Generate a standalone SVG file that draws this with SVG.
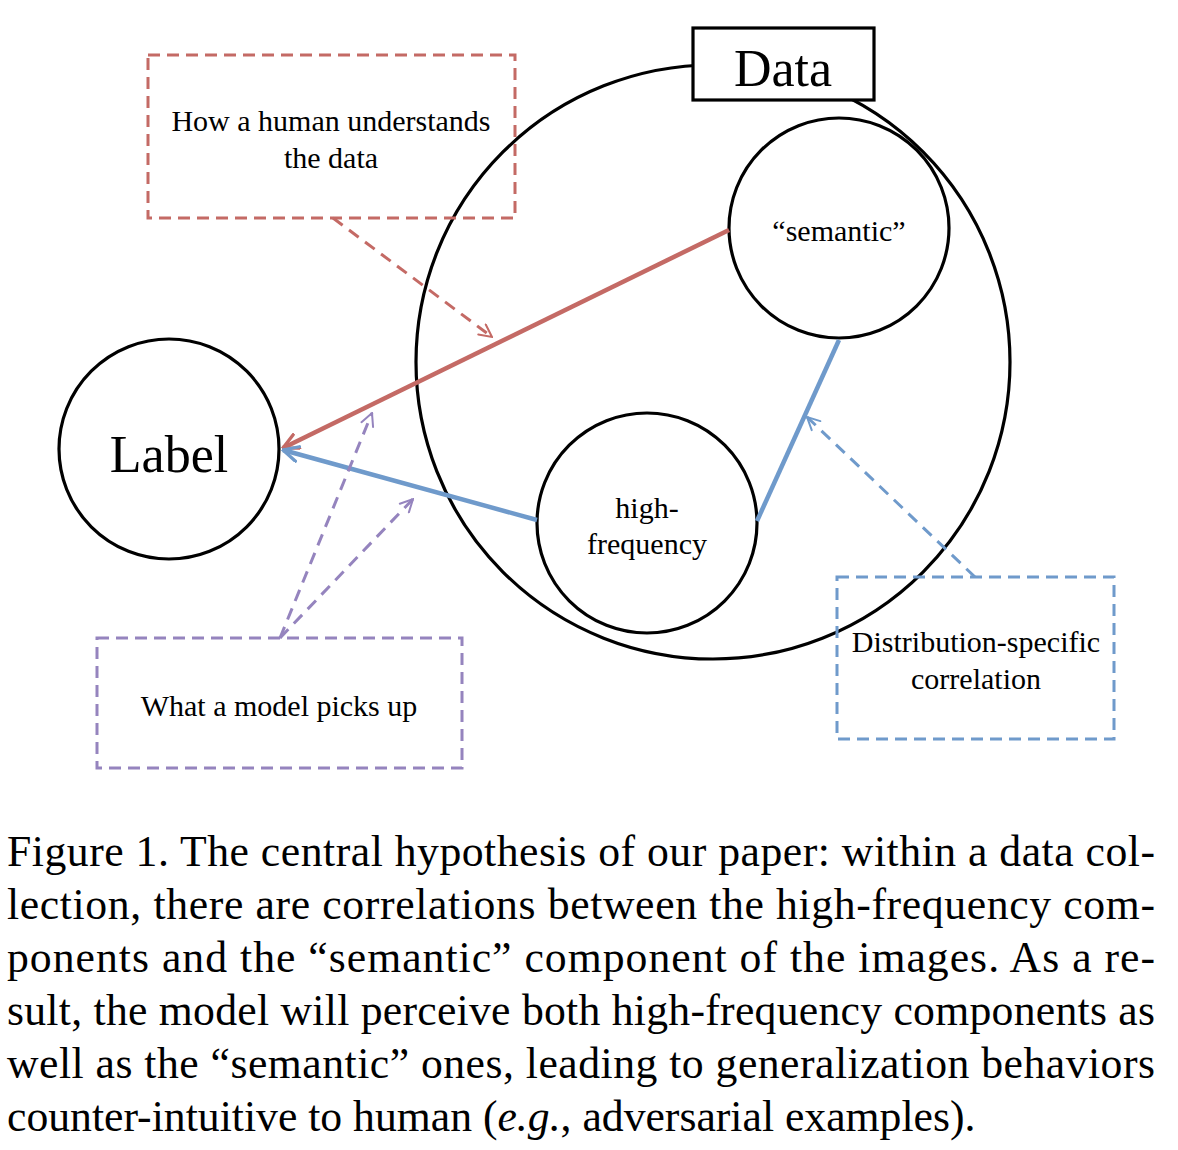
<svg xmlns="http://www.w3.org/2000/svg" width="1178" height="1150" viewBox="0 0 1178 1150">
<style>
text{font-family:"Liberation Serif","Times New Roman",serif;fill:#000}
.node{fill:#fff;stroke:#000;stroke-width:3.2}
.t30{font-size:30px;text-anchor:middle}
.big{font-size:52px;text-anchor:middle}
.cap{font-size:43.7px}
.dbox{fill:none;stroke-width:3;stroke-dasharray:12 7}
.red{stroke:#C46A65}
.blue{stroke:#6F9ACB}
.pur{stroke:#9584BE}
.solid{fill:none;stroke-width:4.5}
.dash{fill:none;stroke-width:3;stroke-dasharray:12 8}
</style>
<defs>
<marker id="ar" viewBox="0 0 12 12" refX="11" refY="6" markerWidth="4" markerHeight="4" orient="auto" markerUnits="strokeWidth"><path d="M1,1 L11,6 L1,11" fill="none" stroke="#C46A65" stroke-width="2.2" stroke-linecap="round"/></marker>
<marker id="ab" viewBox="0 0 12 12" refX="11" refY="6" markerWidth="4" markerHeight="4" orient="auto" markerUnits="strokeWidth"><path d="M1,1 L11,6 L1,11" fill="none" stroke="#6F9ACB" stroke-width="2.2" stroke-linecap="round"/></marker>
<marker id="adr" viewBox="0 0 12 12" refX="11" refY="6" markerWidth="5" markerHeight="5" orient="auto" markerUnits="strokeWidth"><path d="M1,1 L11,6 L1,11" fill="none" stroke="#C46A65" stroke-width="1.6" stroke-linecap="round"/></marker>
<marker id="adb" viewBox="0 0 12 12" refX="11" refY="6" markerWidth="5" markerHeight="5" orient="auto" markerUnits="strokeWidth"><path d="M1,1 L11,6 L1,11" fill="none" stroke="#6F9ACB" stroke-width="1.6" stroke-linecap="round"/></marker>
<marker id="adp" viewBox="0 0 12 12" refX="11" refY="6" markerWidth="5" markerHeight="5" orient="auto" markerUnits="strokeWidth"><path d="M1,1 L11,6 L1,11" fill="none" stroke="#9584BE" stroke-width="1.6" stroke-linecap="round"/></marker>
</defs>

<g id="data">
<circle class="node" cx="713" cy="362" r="297"/>
<rect class="node" x="693" y="28" width="181" height="72"/>
<text class="big" x="783" y="86">Data</text>
</g>
<g id="semantic">
<circle class="node" cx="839" cy="228" r="110"/>
<text class="t30" x="839" y="241">“semantic”</text>
</g>
<g id="highfreq">
<circle class="node" cx="647" cy="523" r="110"/>
<text class="t30" x="647" y="518">high-</text>
<text class="t30" x="647" y="554">frequency</text>
</g>
<g id="label">
<circle class="node" cx="169" cy="449" r="110"/>
<text class="big" x="169" y="472">Label</text>
</g>
<g id="human-box">
<rect class="dbox red" x="148" y="55" width="367" height="163"/>
<text class="t30" x="331" y="131">How a human understands</text>
<text class="t30" x="331" y="168">the data</text>
</g>
<g id="model-box">
<rect class="dbox pur" x="97" y="638" width="365" height="130"/>
<text class="t30" x="279" y="716">What a model picks up</text>
</g>
<g id="dist-box">
<rect class="dbox blue" x="837" y="577" width="277" height="162"/>
<text class="t30" x="976" y="652">Distribution-specific</text>
<text class="t30" x="976" y="689">correlation</text>
</g>

<g id="connectors">
<line class="solid red" x1="729" y1="230" x2="283" y2="448" marker-end="url(#ar)"/>
<line class="solid blue" x1="537" y1="520" x2="283" y2="450" marker-end="url(#ab)"/>
<line class="solid blue" x1="757" y1="521" x2="839" y2="340"/>
<line class="dash red" x1="333" y1="218" x2="492" y2="337" marker-end="url(#adr)"/>
<line class="dash pur" x1="280" y1="638" x2="372" y2="413" marker-end="url(#adp)"/>
<line class="dash pur" x1="280" y1="638" x2="413" y2="499" marker-end="url(#adp)"/>
<line class="dash blue" x1="975" y1="577" x2="807" y2="417" marker-end="url(#adb)"/>
</g>

<g id="caption" class="cap">
<text x="7" y="866" textLength="1148" lengthAdjust="spacing">Figure 1. The central hypothesis of our paper: within a data col-</text>
<text x="7" y="919" textLength="1148" lengthAdjust="spacing">lection, there are correlations between the high-frequency com-</text>
<text x="7" y="972" textLength="1148" lengthAdjust="spacing">ponents and the “semantic” component of the images.  As a re-</text>
<text x="7" y="1025" textLength="1148" lengthAdjust="spacing">sult, the model will perceive both high-frequency components as</text>
<text x="7" y="1078" textLength="1148" lengthAdjust="spacing">well as the “semantic” ones, leading to generalization behaviors</text>
<text x="7" y="1131">counter-intuitive to human (<tspan font-style="italic">e.g.</tspan>, adversarial examples).</text>
</g>
</svg>
